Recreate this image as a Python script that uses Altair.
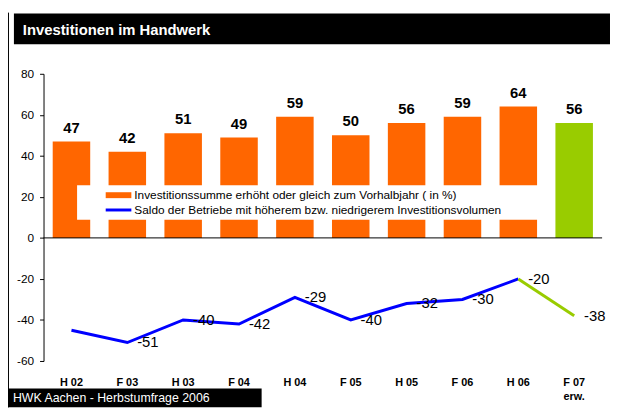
import altair as alt
import pandas as pd

# ---- data ----
categories = ["H 02", "F 03", "H 03", "F 04", "H 04", "F 05", "H 05", "F 06", "H 06", "F 07 erw."]
invest_share = [47, 42, 51, 49, 59, 50, 56, 59, 64, 56]
saldo = [-45, -51, -40, -42, -29, -40, -32, -30, -20, -38]
bar_group = ["ist"] * 9 + ["erw"]
saldo_label_shown = [False, True, True, True, True, True, True, True, True, True]
y_ticks = [-60, -40, -20, 0, 20, 40, 60, 80]

title_text = "Investitionen im Handwerk"
footer_text = "HWK Aachen - Herbstumfrage 2006"
legend_labels = [
    "Investitionssumme erhöht oder gleich zum Vorhalbjahr ( in %)",
    "Saldo der Betriebe mit höherem bzw. niedrigerem Investitionsvolumen",
]

ORANGE = "#FF6600"
GREEN = "#99CC00"
BLUE = "#0000FF"
FONT = "Liberation Sans"

df = pd.DataFrame({
    "cat": categories,
    "invest": invest_share,
    "saldo": saldo,
    "grp": bar_group,
    "show": saldo_label_shown,
})
df["invest_txt"] = [str(v) for v in invest_share]
df["saldo_txt"] = [str(v) for v in saldo]
df_blue = df.iloc[:9]
df_green = df.iloc[8:]
df_lab = df[df["show"]]
one = pd.DataFrame({"k": [0]})

x_enc = alt.X(
    "cat:N", sort=categories,
    scale=alt.Scale(paddingInner=0, paddingOuter=0),
    axis=alt.Axis(
        title=None, domain=False, ticks=False, labelAngle=0,
        labelFont=FONT, labelFontWeight="bold", labelFontSize=11,
        labelColor="black", labelPadding=16, labelLineHeight=14,
        labelExpr="datum.value == 'F 07 erw.' ? ['F 07', 'erw.'] : datum.label",
    ),
)
y_scale = alt.Scale(domain=[-60, 80], nice=False)
y_axis = alt.Axis(
    title=None, grid=False, values=y_ticks, domainColor="black", tickColor="black",
    tickSize=4, labelPadding=6, labelFont=FONT, labelFontSize=12, labelColor="black",
    labelExpr="toString(datum.value)",
)

base = alt.Chart(df)

bars = base.mark_bar(size=38).encode(
    x=x_enc,
    y=alt.Y("invest:Q", scale=y_scale, axis=y_axis),
    color=alt.Color("grp:N", scale=alt.Scale(domain=["ist", "erw"], range=[ORANGE, GREEN]), legend=None),
)
bar_text = base.mark_text(dy=-9, baseline="alphabetic", fontWeight="bold", fontSize=15,
                          font=FONT, color="black").encode(
    x=alt.X("cat:N", sort=categories),
    y=alt.Y("invest:Q"),
    text="invest_txt:N",
)

# legend box
leg_bg = alt.Chart(one).mark_rect(color="white").encode(
    x=alt.value(34), x2=alt.value(506), y=alt.value(113), y2=alt.value(148))
leg_sym1 = alt.Chart(one).mark_rect(color=ORANGE).encode(
    x=alt.value(63), x2=alt.value(89), y=alt.value(120), y2=alt.value(126))
leg_sym2 = alt.Chart(one).mark_rule(color=BLUE, strokeWidth=3).encode(
    x=alt.value(63), x2=alt.value(89), y=alt.value(138))
leg_t1 = alt.Chart(one).mark_text(align="left", baseline="middle", fontSize=12, font=FONT,
                                  color="black").encode(
    x=alt.value(92), y=alt.value(123), text=alt.value(legend_labels[0]))
leg_t2 = alt.Chart(one).mark_text(align="left", baseline="middle", fontSize=12, font=FONT,
                                  color="black").encode(
    x=alt.value(92), y=alt.value(138), text=alt.value(legend_labels[1]))

zero = alt.Chart(one).mark_rule(color="black", strokeWidth=1).encode(y=alt.datum(0))

line_b = alt.Chart(df_blue).mark_line(color=BLUE, strokeWidth=3).encode(
    x=alt.X("cat:N", sort=categories), y=alt.Y("saldo:Q"))
line_g = alt.Chart(df_green).mark_line(color=GREEN, strokeWidth=3).encode(
    x=alt.X("cat:N", sort=categories), y=alt.Y("saldo:Q"))
line_text = alt.Chart(df_lab).mark_text(align="left", baseline="middle", dx=10, fontSize=15,
                                        font=FONT, color="black").encode(
    x=alt.X("cat:N", sort=categories), y=alt.Y("saldo:Q"), text="saldo_txt:N")

# frame, title bar, footer
frame = alt.Chart(one).mark_rule(color="black", strokeWidth=1).encode(
    x=alt.value(-35.5), y=alt.value(-62), y2=alt.value(338))
title_bg = alt.Chart(one).mark_rect(color="black").encode(
    x=alt.value(-30), x2=alt.value(574), y=alt.value(-61), y2=alt.value(-30))
title_t = alt.Chart(one).mark_text(align="left", baseline="middle", fontSize=15, fontWeight="bold",
                                   font=FONT, color="white").encode(
    x=alt.value(-21), y=alt.value(-44), text=alt.value(title_text))
foot_bg = alt.Chart(one).mark_rect(color="black").encode(
    x=alt.value(-36), x2=alt.value(221), y=alt.value(319), y2=alt.value(338))
foot_t = alt.Chart(one).mark_text(align="left", baseline="middle", fontSize=12.5,
                                  font=FONT, color="white").encode(
    x=alt.value(-31), y=alt.value(329), text=alt.value(footer_text))

chart = alt.layer(
    bars, bar_text, leg_bg, leg_sym1, leg_sym2, leg_t1, leg_t2, zero,
    line_b, line_g, line_text, frame, title_bg, title_t, foot_bg, foot_t,
).properties(
    width=566, height=291,
    autosize=alt.AutoSizeParams(type="none"),
    padding={"left": 36, "top": 64, "right": 8, "bottom": 47},
    background="white",
).configure_view(stroke=None)

chart.save("out.html", embed_options={"renderer": "svg", "actions": False})
